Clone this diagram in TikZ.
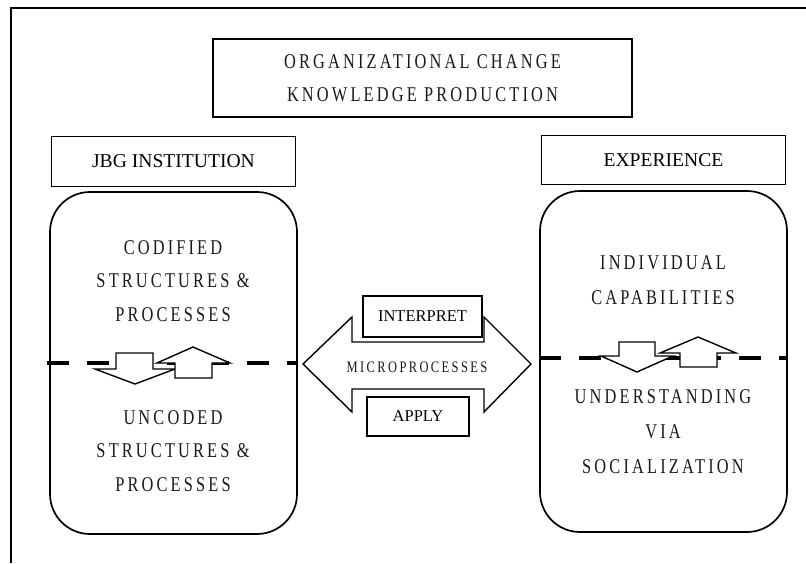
\documentclass[tikz,border=0pt]{standalone}
\usepackage{fontspec}
\setmainfont{Liberation Serif}
\newfontfamily\condserif[FakeStretch=0.78,LetterSpace=15]{Liberation Serif}
\usetikzlibrary{positioning}

\tikzset{
  labelbox/.style={draw, line width=1.4pt, inner sep=0pt, font=\fontsize{19.6}{22}\selectfont},
  bigbox/.style={draw, line width=1.7pt, rounded corners=40pt, inner sep=0pt},
  boxtext/.style={align=center, inner sep=0pt, text=black!90, font=\condserif\fontsize{21}{33.5}\selectfont},
  blockarrow/.style={draw, line width=1.4pt, fill=white, line join=miter},
  cutline/.style={line width=4pt, dash pattern=on 22pt off 18pt},
}

\begin{document}
\begin{tikzpicture}[x=1pt, y=-1pt]
  \useasboundingbox (0,0) rectangle (806,563);
  \draw[line width=1.2pt] (806,8) -- (11,8) -- (11,563);   %frame

  \node[labelbox, boxtext, minimum width=419pt, minimum height=78pt] (title) at (422.5,78) {ORGANIZATIONAL CHANGE\\KNOWLEDGE PRODUCTION};

  \node[bigbox, minimum width=247pt, minimum height=342pt] (lbox) at (173.5,363) {};
  \node[bigbox, minimum width=247pt, minimum height=341pt] (rbox) at (663.5,361.5) {};
  \node[labelbox, minimum width=244pt, minimum height=50pt, above=4pt of lbox] (jbg) {JBG INSTITUTION};
  \node[labelbox, minimum width=244pt, minimum height=49pt, above=5pt of rbox] (exper) {EXPERIENCE};

  \node[boxtext] (codified) at (173,281) {CODIFIED\\STRUCTURES \&\\PROCESSES};
  \node[boxtext] (uncoded) at (173,451) {UNCODED\\STRUCTURES \&\\PROCESSES};
  \node[boxtext, font=\condserif\fontsize{21}{35}\selectfont] (indiv) at (663,280) {INDIVIDUAL\\CAPABILITIES};
  \node[boxtext, font=\condserif\fontsize{21}{35}\selectfont] (underst) at (663,432) {UNDERSTANDING\\VIA\\SOCIALIZATION};

  \draw[cutline] ([xshift=-2pt]lbox.west) -- (lbox.east);   %codified / uncoded
  \draw[cutline] ([yshift=3.5pt]rbox.west) -- ([yshift=3.5pt]rbox.east);

  \draw[blockarrow] (116,353) -- (153,353) -- (153,369) -- (175,369) -- (135,384) -- (95,369) -- (116,369) -- cycle;   %down
  \draw[blockarrow] (175,378) -- (212,378) -- (212,363) -- (230,363) -- (193,347) -- (157,363) -- (175,363) -- cycle;   %up
  \draw[blockarrow] (619,342) -- (655,342) -- (655,356) -- (673,356) -- (637,372) -- (601,356) -- (619,356) -- cycle;
  \draw[blockarrow] (680,367) -- (717,367) -- (717,353) -- (736,353) -- (698,337) -- (660,353) -- (680,353) -- cycle;

  \draw[blockarrow] (303,364) -- (352,317) -- (352,342) -- (484,342) -- (484,317) -- (531,364) -- (484,412) -- (484,389) -- (352,389) -- (352,412) -- cycle;   %micro processes
  \node[boxtext, font=\condserif\fontsize{16}{18}\selectfont] (micro) at (417,367) {MICROPROCESSES};
  \node[labelbox, font=\fontsize{16.5}{18}\selectfont, minimum width=119pt, minimum height=41pt] (interp) at (422.5,316.5) {INTERPRET};
  \node[labelbox, font=\fontsize{16.5}{18}\selectfont, minimum width=102pt, minimum height=39pt] (apply) at (418,416.5) {APPLY};
\end{tikzpicture}
\end{document}
